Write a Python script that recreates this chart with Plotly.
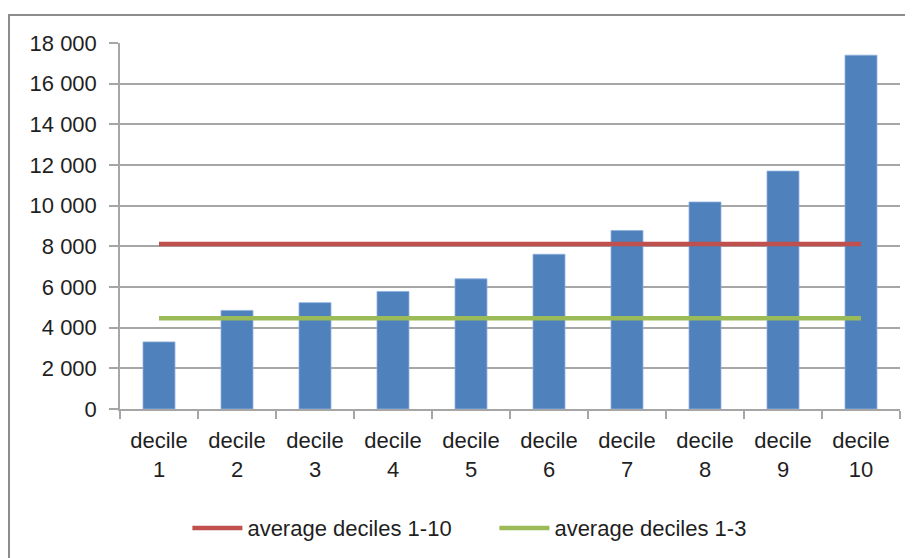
import plotly.graph_objects as go

categories = ["decile<br>1", "decile<br>2", "decile<br>3", "decile<br>4", "decile<br>5",
              "decile<br>6", "decile<br>7", "decile<br>8", "decile<br>9", "decile<br>10"]
values = [3300, 4850, 5230, 5780, 6400, 7610, 8780, 10180, 11700, 17400]
avg_all_value = 8120
avg_low_value = 4460
avg_all = [avg_all_value] * len(categories)
avg_low = [avg_low_value] * len(categories)
y_ticks = [0, 2000, 4000, 6000, 8000, 10000, 12000, 14000, 16000, 18000]

FONT = "Liberation Sans, Arial, sans-serif"
GRID = "#a6a6a6"

fig = go.Figure()
fig.add_trace(go.Bar(x=categories, y=values, name="deciles", showlegend=False,
                     marker=dict(color="#4F81BD", line=dict(color="#8DB0DD", width=0.8))))
fig.add_trace(go.Scatter(x=categories, y=avg_all, mode="lines", name="average deciles 1-10",
                         line=dict(color="#C0504D", width=4.5)))
fig.add_trace(go.Scatter(x=categories, y=avg_low, mode="lines", name="average deciles 1-3",
                         line=dict(color="#9BBB59", width=4.5)))

fig.update_layout(
    width=913, height=558,
    margin=dict(l=112, r=21, t=35, b=157),
    paper_bgcolor="white", plot_bgcolor="white",
    separators=". ",
    font=dict(family=FONT, size=22, color="#1f1f1f"),
    bargap=0.59,
    legend=dict(orientation="h", x=0.0864, y=-0.268, xanchor="left", yanchor="top",
                font=dict(size=22), itemwidth=50, traceorder="normal",
                entrywidth=242, entrywidthmode="pixels"),
    xaxis=dict(type="category", showline=True, linecolor=GRID, linewidth=1.5,
               ticks="outside", tickson="boundaries", ticklen=8, tickcolor=GRID,
               tickwidth=1.5, showgrid=False, fixedrange=True, ticklabelstandoff=11),
    yaxis=dict(range=[0, 18000], tickvals=y_ticks, tickformat=",d", showline=True,
               linecolor=GRID, linewidth=1.5, ticks="outside", ticklen=9,
               tickcolor=GRID, tickwidth=1.5, showgrid=True, gridcolor=GRID,
               gridwidth=1.5, zeroline=False, fixedrange=True, ticklabelstandoff=8),
    shapes=[dict(type="rect", xref="paper", yref="paper", x0=-0.1423, x1=1.1,
                 y0=-0.6, y1=1.0765, line=dict(color="#8c8c8c", width=2),
                 fillcolor="rgba(0,0,0,0)", layer="below")],
)

fig.write_html("out.html")
